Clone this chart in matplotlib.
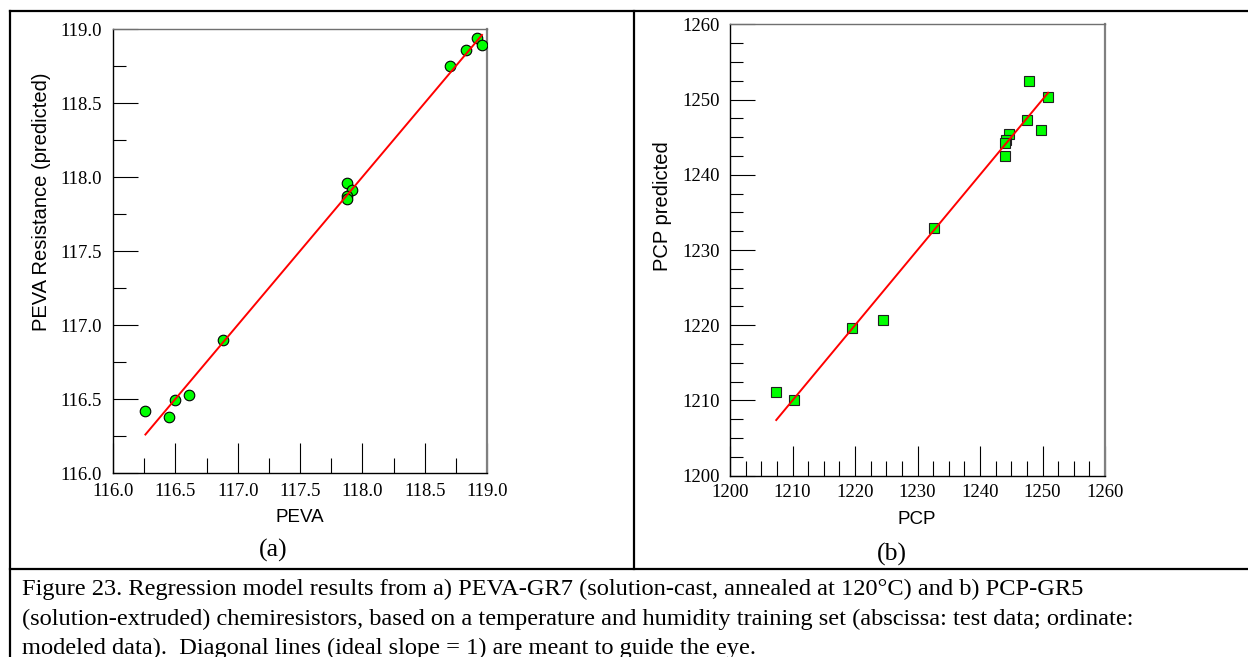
import numpy as np
import matplotlib.pyplot as plt
from matplotlib.lines import Line2D
from matplotlib.ticker import MultipleLocator, FormatStrFormatter

# PEVA-GR7: test data vs modeled data
peva_x = [118.92, 118.96, 118.83, 118.70, 117.88, 117.92, 117.88, 117.88,
          116.88, 116.61, 116.50, 116.45, 116.26]
peva_y = [118.94, 118.89, 118.86, 118.75, 117.96, 117.91, 117.87, 117.85,
          116.90, 116.53, 116.49, 116.38, 116.42]

# PCP-GR5: test data vs modeled data
pcp_x = [1247.8, 1250.9, 1247.5, 1249.7, 1244.7, 1244.2, 1244.0, 1244.05,
         1232.7, 1224.4, 1219.6, 1207.4, 1210.2]
pcp_y = [1252.5, 1250.3, 1247.3, 1246.0, 1245.4, 1244.6, 1244.2, 1242.5,
         1232.9, 1220.7, 1219.6, 1211.1, 1210.1]

caption = [
    "Figure 23. Regression model results from a) PEVA-GR7 (solution-cast, annealed at 120\u00b0C) and b) PCP-GR5",
    "(solution-extruded) chemiresistors, based on a temperature and humidity training set (abscissa: test data; ordinate:",
    "modeled data).  Diagonal lines (ideal slope = 1) are meant to guide the eye.",
]

W, H = 1248, 657
fig = plt.figure(figsize=(W / 100, H / 100), dpi=100)
serif = "Liberation Serif"
sans = "Liberation Sans"


def px(x, y):
    return x / W, 1 - y / H


def style_axes(ax, lim, major, minor, fmt, xpad, ypad):
    ax.set_xlim(lim)
    ax.set_ylim(lim)
    for a in (ax.xaxis, ax.yaxis):
        a.set_major_locator(MultipleLocator(major))
        a.set_minor_locator(MultipleLocator(minor))
        a.set_major_formatter(FormatStrFormatter(fmt))
    ax.tick_params(which="both", direction="in", top=False, right=False,
                   width=0.8, color="black", labelsize=13.5,
                   labelfontfamily=serif)
    ax.tick_params(axis="y", which="major", length=18, pad=ypad)
    ax.tick_params(axis="y", which="minor", length=9)
    ax.tick_params(axis="x", which="major", length=21.5, pad=xpad)
    ax.tick_params(axis="x", which="minor", length=10.8)
    ax.spines["left"].set_color("black")
    ax.spines["bottom"].set_color("black")
    ax.spines["left"].set_linewidth(1.0)
    ax.spines["bottom"].set_linewidth(1.0)
    ax.spines["top"].set_color("#707070")
    ax.spines["right"].set_color("#808080")
    ax.spines["top"].set_linewidth(1.0)
    ax.spines["right"].set_linewidth(1.6)


# (a) PEVA
l, b = px(113, 473)
ax1 = fig.add_axes([l, b, (487 - 113) / W, (473 - 29) / H])
ax1.plot(peva_x, peva_y, "o", ms=7.6, mfc="#00ff00", mec="black", mew=0.8, zorder=3)
d = [min(peva_x), max(peva_x)]
ax1.plot(d, d, color="red", lw=1.4, zorder=4)
style_axes(ax1, (116.0, 119.0), 0.5, 0.25, "%.1f", 7, 8)

# (b) PCP
l, b = px(730, 475.7)
ax2 = fig.add_axes([l, b, (1105 - 730) / W, (475.7 - 24.3) / H])
ax2.plot(pcp_x, pcp_y, "s", ms=7.4, mfc="#00ff00", mec="#202020", mew=0.8, zorder=3)
d = [min(pcp_x), max(pcp_x)]
ax2.plot(d, d, color="red", lw=1.4, zorder=4)
style_axes(ax2, (1200, 1260), 10, 2.5, "%d", 6, 7)

# axis labels
fig.text(*px(42, 202), "PEVA Resistance (predicted)", rotation=90, ha="center",
         va="center", fontsize=14.5, family=sans)
fig.text(*px(663, 206), "PCP predicted", rotation=90, ha="center",
         va="center", fontsize=14.5, family=sans)
fig.text(*px(300, 518), "PEVA", ha="center", va="center", fontsize=13.5, family=sans)
fig.text(*px(917, 520), "PCP", ha="center", va="center", fontsize=13.5, family=sans)
fig.text(*px(273, 550), "(a)", ha="center", va="center", fontsize=18.5, family=serif)
fig.text(*px(892, 554), "(b)", ha="center", va="center", fontsize=18.5, family=serif)

# caption lines
for line, base in zip(caption, [595, 625.5, 654]):
    fig.text(*px(22, base), line, ha="left", va="baseline", fontsize=17.6, family=serif)

# table frame around the panels
frame = dict(color="black", lw=1.6, transform=fig.transFigure)
fig.add_artist(Line2D([10 / W, 1], [1 - 11 / H] * 2, **frame))
fig.add_artist(Line2D([10 / W] * 2, [0, 1 - 11 / H], **frame))
fig.add_artist(Line2D([10 / W, 1], [1 - 569 / H] * 2, **frame))
fig.add_artist(Line2D([634 / W] * 2, [1 - 569 / H, 1 - 11 / H], **frame))

fig.savefig("out.png", dpi=100)
